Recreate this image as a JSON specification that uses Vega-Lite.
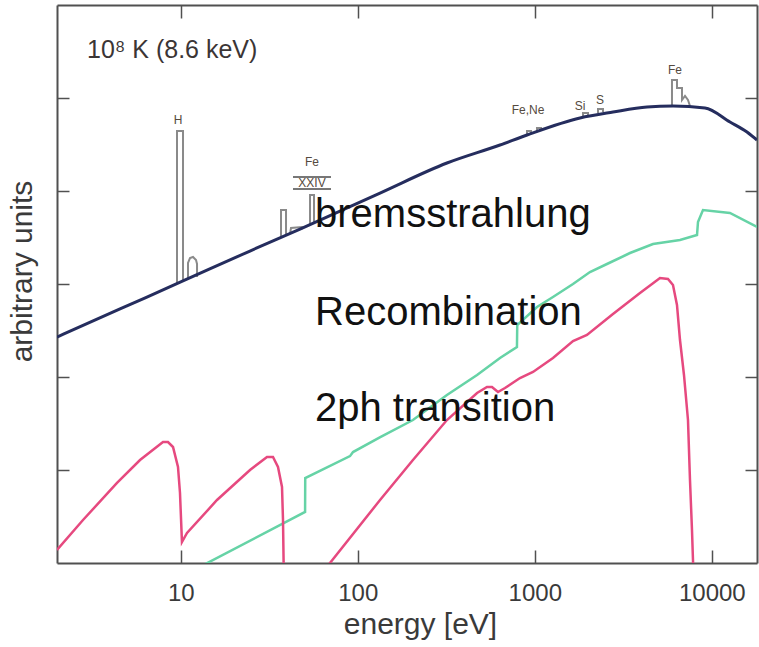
{
  "$schema": "https://vega.github.io/schema/vega-lite/v6.json",
  "width": 700,
  "height": 558,
  "autosize": {"type": "none"},
  "padding": {"left": 57, "top": 5, "right": 2, "bottom": 84},
  "background": "white",
  "config": {
    "view": {"stroke": null},
    "font": "Liberation Sans",
    "axis": {"grid": false, "domainColor": "#505050", "domainWidth": 2, "tickColor": "#505050", "tickWidth": 1.5, "labelColor": "#3a3a3a", "titleColor": "#3a3a3a", "titleFontWeight": "normal", "labelFont": "Liberation Sans", "titleFont": "Liberation Sans"}
  },
  "datasets": {
    "brems": [
      {"i": 1, "E": 2.0, "Y": 269}, {"i": 2, "E": 4.54, "Y": 539}, {"i": 3, "E": 10, "Y": 1051}, {"i": 4, "E": 24.6, "Y": 2263},
      {"i": 5, "E": 47.2, "Y": 3901}, {"i": 6, "E": 133.6, "Y": 9510}, {"i": 7, "E": 319, "Y": 20000}, {"i": 8, "E": 636, "Y": 31240},
      {"i": 9, "E": 904, "Y": 40000}, {"i": 10, "E": 1800, "Y": 60950}, {"i": 11, "E": 2766, "Y": 70650}, {"i": 12, "E": 4305, "Y": 80000},
      {"i": 13, "E": 6040, "Y": 82000}, {"i": 14, "E": 9150, "Y": 78000}, {"i": 15, "E": 12670, "Y": 55200}, {"i": 16, "E": 15800, "Y": 43100},
      {"i": 17, "E": 18000, "Y": 35340}
    ],
    "recomb": [
      {"i": 1, "E": 8.58, "Y": 0.609}, {"i": 2, "E": 50.4, "Y": 3.54}, {"i": 3, "E": 50.5, "Y": 8.2}, {"i": 4, "E": 90.4, "Y": 14.1},
      {"i": 5, "E": 94.0, "Y": 15.6}, {"i": 6, "E": 134, "Y": 22.6}, {"i": 7, "E": 205, "Y": 34.5}, {"i": 8, "E": 319, "Y": 64},
      {"i": 9, "E": 472, "Y": 105}, {"i": 10, "E": 636, "Y": 160}, {"i": 11, "E": 793, "Y": 210}, {"i": 12, "E": 796, "Y": 362},
      {"i": 13, "E": 1029, "Y": 566}, {"i": 14, "E": 1267, "Y": 725}, {"i": 15, "E": 1644, "Y": 1000}, {"i": 16, "E": 2050, "Y": 1346},
      {"i": 17, "E": 2557, "Y": 1641}, {"i": 18, "E": 3450, "Y": 2154}, {"i": 19, "E": 4653, "Y": 2692}, {"i": 20, "E": 6611, "Y": 2972},
      {"i": 21, "E": 8249, "Y": 3365}, {"i": 22, "E": 8355, "Y": 4642}, {"i": 23, "E": 8915, "Y": 6248}, {"i": 24, "E": 12660, "Y": 5800},
      {"i": 25, "E": 18000, "Y": 4102}
    ],
    "twoph": [
      {"seg": 1, "i": 1, "E": 2.0, "Y": 1.38}, {"seg": 1, "i": 2, "E": 2.805, "Y": 2.9}, {"seg": 1, "i": 3, "E": 4.365, "Y": 7.25},
      {"seg": 1, "i": 4, "E": 5.888, "Y": 12.81}, {"seg": 1, "i": 5, "E": 7.939, "Y": 20.0}, {"seg": 1, "i": 6, "E": 8.472, "Y": 20.0},
      {"seg": 1, "i": 7, "E": 9.044, "Y": 17.67}, {"seg": 1, "i": 8, "E": 9.65, "Y": 10.77}, {"seg": 1, "i": 9, "E": 9.904, "Y": 5.657},
      {"seg": 1, "i": 10, "E": 10.16, "Y": 1.682}, {"seg": 1, "i": 11, "E": 10.85, "Y": 2.102}, {"seg": 1, "i": 12, "E": 16.03, "Y": 4.758},
      {"seg": 1, "i": 13, "E": 24.62, "Y": 10}, {"seg": 1, "i": 14, "E": 30.71, "Y": 13.8}, {"seg": 1, "i": 15, "E": 33.2, "Y": 13.8},
      {"seg": 1, "i": 16, "E": 35.43, "Y": 10.77}, {"seg": 1, "i": 17, "E": 37.33, "Y": 6.565}, {"seg": 1, "i": 18, "E": 37.82, "Y": 2.9},
      {"seg": 1, "i": 19, "E": 38.31, "Y": 0.513},
      {"seg": 2, "i": 1, "E": 56.6, "Y": 0.609}, {"seg": 2, "i": 2, "E": 69.67, "Y": 1}, {"seg": 2, "i": 3, "E": 133.6, "Y": 4.758},
      {"seg": 2, "i": 4, "E": 205, "Y": 12.81}, {"seg": 2, "i": 5, "E": 319, "Y": 34.48}, {"seg": 2, "i": 6, "E": 472, "Y": 67.3},
      {"seg": 2, "i": 7, "E": 537, "Y": 78.07}, {"seg": 2, "i": 8, "E": 573, "Y": 78.07}, {"seg": 2, "i": 9, "E": 619.7, "Y": 68.99},
      {"seg": 2, "i": 10, "E": 678.7, "Y": 76.14}, {"seg": 2, "i": 11, "E": 825, "Y": 97.5}, {"seg": 2, "i": 12, "E": 977, "Y": 113.2},
      {"seg": 2, "i": 13, "E": 1267, "Y": 160.1}, {"seg": 2, "i": 14, "E": 1644, "Y": 243.9}, {"seg": 2, "i": 15, "E": 1971, "Y": 282.9},
      {"seg": 2, "i": 16, "E": 2765, "Y": 475.8}, {"seg": 2, "i": 17, "E": 3929, "Y": 800.4}, {"seg": 2, "i": 18, "E": 5097, "Y": 1160},
      {"seg": 2, "i": 19, "E": 5655, "Y": 1132}, {"seg": 2, "i": 20, "E": 6035, "Y": 975.5}, {"seg": 2, "i": 21, "E": 6357, "Y": 594.8},
      {"seg": 2, "i": 22, "E": 6611, "Y": 249.9}, {"seg": 2, "i": 23, "E": 6963, "Y": 105.1}, {"seg": 2, "i": 24, "E": 7335, "Y": 34.48},
      {"seg": 2, "i": 25, "E": 7529, "Y": 7.8}, {"seg": 2, "i": 26, "E": 7727, "Y": 2.264}, {"seg": 2, "i": 27, "E": 7930, "Y": 0.513}
    ],
    "lines": [
      {"id": "H", "i": 1, "E": 9.526, "Y": 1000}, {"id": "H", "i": 2, "E": 9.526, "Y": 44180}, {"id": "H", "i": 3, "E": 10.3, "Y": 44180}, {"id": "H", "i": 4, "E": 10.3, "Y": 1077},
      {"id": "H2", "i": 1, "E": 10.99, "Y": 1132}, {"id": "H2", "i": 2, "E": 10.99, "Y": 1682}, {"id": "H2", "i": 3, "E": 11.28, "Y": 1903}, {"id": "H2", "i": 4, "E": 11.73, "Y": 1951},
      {"id": "H2", "i": 5, "E": 12.2, "Y": 1812}, {"id": "H2", "i": 6, "E": 12.36, "Y": 1641}, {"id": "H2", "i": 7, "E": 12.36, "Y": 1189},
      {"id": "Fe1", "i": 1, "E": 36.85, "Y": 3124}, {"id": "Fe1", "i": 2, "E": 36.85, "Y": 6248}, {"id": "Fe1", "i": 3, "E": 39.33, "Y": 6248}, {"id": "Fe1", "i": 4, "E": 39.33, "Y": 3282},
      {"id": "Fe1b", "i": 1, "E": 41.42, "Y": 3449}, {"id": "Fe1b", "i": 2, "E": 41.97, "Y": 4002}, {"id": "Fe1b", "i": 3, "E": 48.42, "Y": 4102}, {"id": "Fe1b", "i": 4, "E": 49.06, "Y": 3903},
      {"id": "Fe2", "i": 1, "E": 53.74, "Y": 4309}, {"id": "Fe2", "i": 2, "E": 53.74, "Y": 9057}, {"id": "Fe2", "i": 3, "E": 56.6, "Y": 9057}, {"id": "Fe2", "i": 4, "E": 56.6, "Y": 4528},
      {"id": "FeNe1", "i": 1, "E": 903.6, "Y": 40000}, {"id": "FeNe1", "i": 2, "E": 903.6, "Y": 44180}, {"id": "FeNe1", "i": 3, "E": 951.7, "Y": 44180}, {"id": "FeNe1", "i": 4, "E": 951.7, "Y": 41500},
      {"id": "FeNe2", "i": 1, "E": 1029, "Y": 43100}, {"id": "FeNe2", "i": 2, "E": 1029, "Y": 47580}, {"id": "FeNe2", "i": 3, "E": 1084, "Y": 47580}, {"id": "FeNe2", "i": 4, "E": 1084, "Y": 44500},
      {"id": "Si", "i": 1, "E": 1872, "Y": 62480}, {"id": "Si", "i": 2, "E": 1872, "Y": 68970}, {"id": "Si", "i": 3, "E": 1998, "Y": 68970}, {"id": "Si", "i": 4, "E": 1998, "Y": 64000},
      {"id": "S", "i": 1, "E": 2276, "Y": 68970}, {"id": "S", "i": 2, "E": 2276, "Y": 76140}, {"id": "S", "i": 3, "E": 2428, "Y": 76140}, {"id": "S", "i": 4, "E": 2428, "Y": 70500},
      {"id": "FeK", "i": 1, "E": 5957, "Y": 82040}, {"id": "FeK", "i": 2, "E": 5957, "Y": 156100}, {"id": "FeK", "i": 3, "E": 6357, "Y": 156100}, {"id": "FeK", "i": 4, "E": 6357, "Y": 128100},
      {"id": "FeK", "i": 5, "E": 6785, "Y": 128100}, {"id": "FeK", "i": 6, "E": 6785, "Y": 95170}, {"id": "FeK", "i": 7, "E": 7055, "Y": 105100}, {"id": "FeK", "i": 8, "E": 7335, "Y": 95170},
      {"id": "FeK", "i": 9, "E": 7529, "Y": 82040}
    ],
    "smalllabels": [
      {"t": "H", "E": 9.65, "Y": 58000}, {"t": "Fe", "E": 55.15, "Y": 20500}, {"t": "XXIV", "E": 55.15, "Y": 12190},
      {"t": "Fe,Ne", "E": 915.5, "Y": 74300}, {"t": "Si", "E": 1800, "Y": 82040}, {"t": "S", "E": 2335, "Y": 95170}, {"t": "Fe", "E": 6194, "Y": 200000}
    ],
    "bars": [
      {"E": 43.06, "E2": 70.6, "Y": 14150}, {"E": 43.06, "E2": 70.6, "Y": 10510}
    ],
    "biglabels": [
      {"t": "bremsstrahlung", "E": 57.34, "Y": 4102}, {"t": "Recombination", "E": 57.34, "Y": 362.4}, {"t": "2ph transition", "E": 57.34, "Y": 33.64}
    ],
    "title": [
      {"t": "10⁸ K (8.6 keV)", "E": 2.955, "Y": 269200}
    ]
  },
  "resolve": {"axis": {"x": "independent", "y": "independent"}},
  "layer": [
    {
      "data": {"name": "lines"},
      "mark": {"type": "line", "color": "#8a8a8a", "strokeWidth": 2, "clip": true},
      "encoding": {
        "x": {"field": "E", "type": "quantitative", "scale": {"type": "log", "domain": [2, 18000], "nice": false},
          "axis": {"orient": "top", "values": [10, 100, 1000, 10000], "tickSize": -13, "labels": false, "title": null, "domain": true}},
        "y": {"field": "Y", "type": "quantitative", "scale": {"type": "log", "domain": [1, 1000000], "nice": false},
          "axis": {"orient": "right", "values": [10, 100, 1000, 10000, 100000], "tickSize": -12, "labels": false, "title": null, "domain": true}},
        "detail": {"field": "id"},
        "order": {"field": "i"}
      }
    },
    {
      "data": {"name": "brems"},
      "mark": {"type": "line", "color": "#252d5e", "strokeWidth": 3, "interpolate": "monotone", "clip": true},
      "encoding": {
        "x": {"field": "E", "type": "quantitative", "scale": {"type": "log", "domain": [2, 18000], "nice": false},
          "axis": {"orient": "bottom", "values": [10, 100, 1000, 10000], "tickSize": -13,
            "labelFontSize": 24, "labelPadding": 31, "labelOverlap": false, "labelFlush": false,
            "labelExpr": "format(datum.value, 'd')",
            "title": "energy [eV]", "titleFontSize": 30, "titlePadding": 4, "titleX": 363, "domain": true}},
        "y": {"field": "Y", "type": "quantitative", "scale": {"type": "log", "domain": [1, 1000000], "nice": false},
          "axis": {"orient": "left", "values": [10, 100, 1000, 10000, 100000], "tickSize": -12,
            "labels": false, "title": "arbitrary units", "titleFontSize": 30, "titlePadding": 19, "titleY": 266, "domain": true}},
        "order": {"field": "i"}
      }
    },
    {
      "data": {"name": "recomb"},
      "mark": {"type": "line", "color": "#66d3a6", "strokeWidth": 2.5, "clip": true},
      "encoding": {
        "x": {"field": "E", "type": "quantitative", "axis": null},
        "y": {"field": "Y", "type": "quantitative", "axis": null},
        "order": {"field": "i"}
      }
    },
    {
      "data": {"name": "twoph"},
      "mark": {"type": "line", "color": "#e6497f", "strokeWidth": 2.5, "clip": true},
      "encoding": {
        "x": {"field": "E", "type": "quantitative", "axis": null},
        "y": {"field": "Y", "type": "quantitative", "axis": null},
        "detail": {"field": "seg"},
        "order": {"field": "i"}
      }
    },
    {
      "data": {"name": "bars"},
      "mark": {"type": "rule", "color": "#4a4a4a", "strokeWidth": 1.5},
      "encoding": {
        "x": {"field": "E", "type": "quantitative", "axis": null},
        "x2": {"field": "E2"},
        "y": {"field": "Y", "type": "quantitative", "axis": null}
      }
    },
    {
      "data": {"name": "smalllabels"},
      "mark": {"type": "text", "color": "#554a40", "fontSize": 12, "align": "center", "baseline": "middle", "font": "Liberation Sans"},
      "encoding": {
        "x": {"field": "E", "type": "quantitative", "axis": null},
        "y": {"field": "Y", "type": "quantitative", "axis": null},
        "text": {"field": "t"}
      }
    },
    {
      "data": {"name": "biglabels"},
      "mark": {"type": "text", "color": "#111111", "fontSize": 40, "align": "left", "baseline": "alphabetic", "font": "Liberation Sans"},
      "encoding": {
        "x": {"field": "E", "type": "quantitative", "axis": null},
        "y": {"field": "Y", "type": "quantitative", "axis": null},
        "text": {"field": "t"}
      }
    },
    {
      "data": {"name": "title"},
      "mark": {"type": "text", "color": "#3b3535", "fontSize": 25, "align": "left", "baseline": "alphabetic", "font": "Liberation Sans"},
      "encoding": {
        "x": {"field": "E", "type": "quantitative", "axis": null},
        "y": {"field": "Y", "type": "quantitative", "axis": null},
        "text": {"field": "t"}
      }
    }
  ]
}
